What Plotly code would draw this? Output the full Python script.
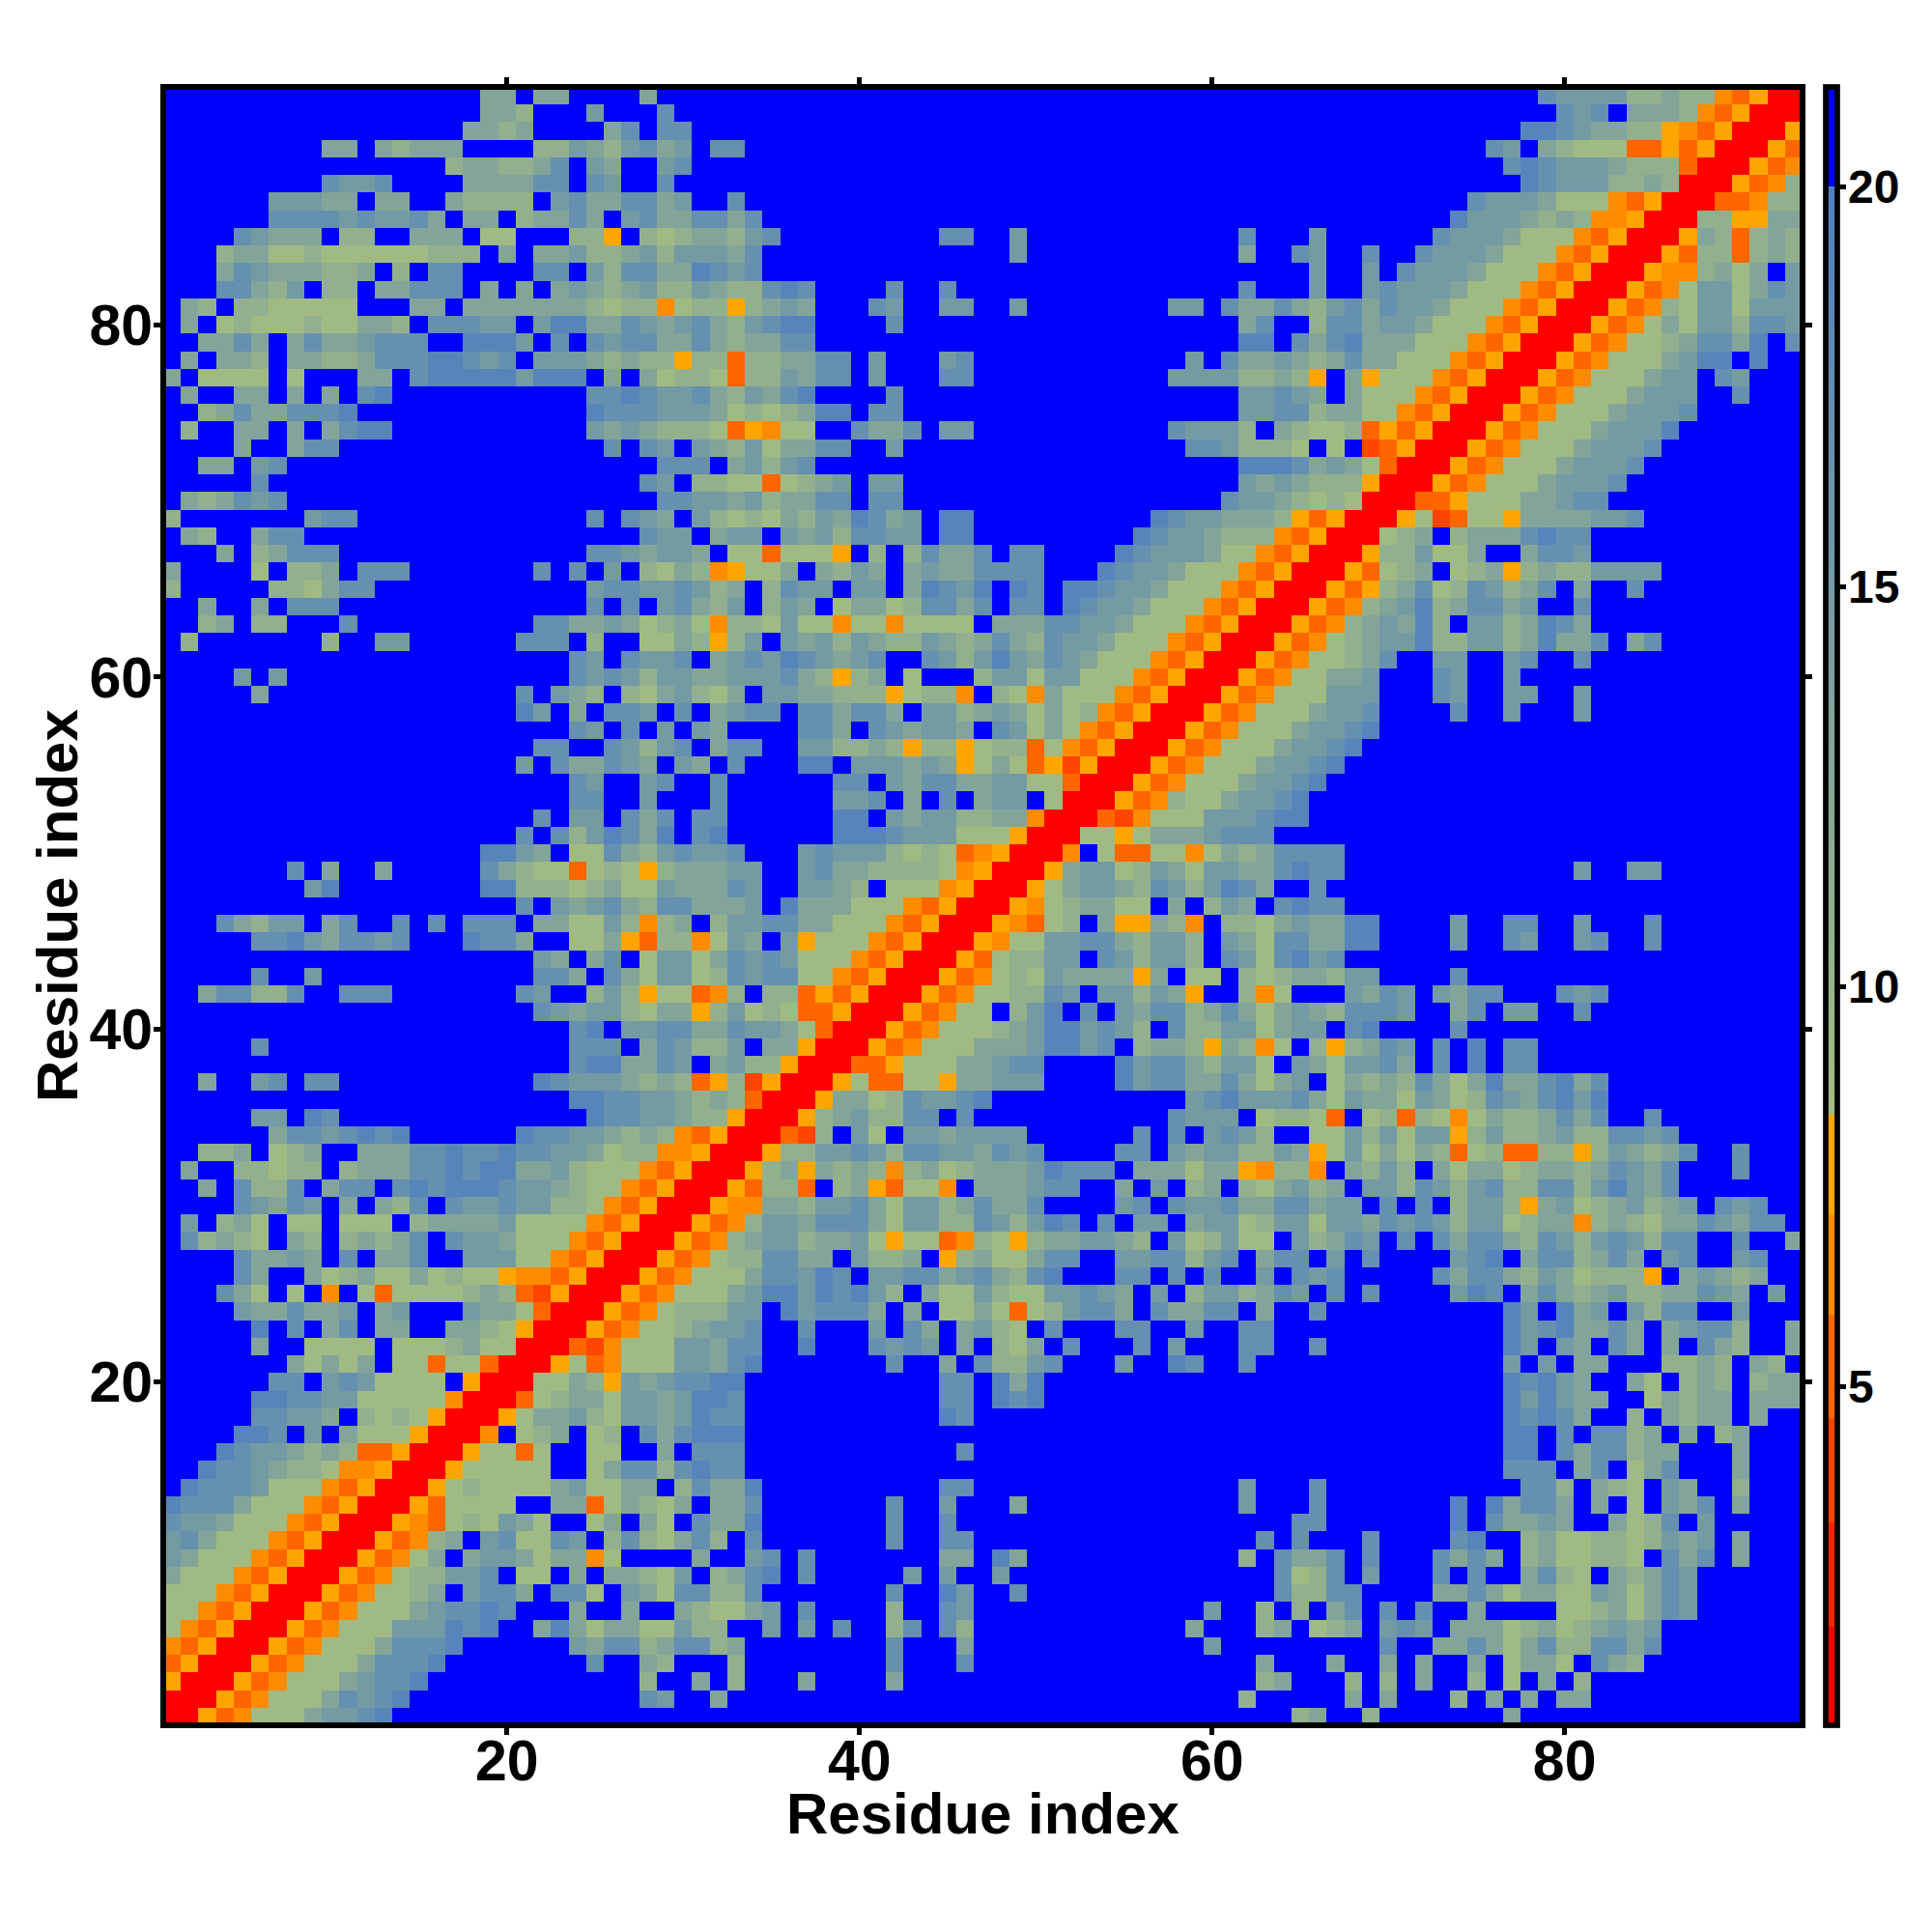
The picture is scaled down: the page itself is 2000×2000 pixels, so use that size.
import plotly.graph_objects as go

# Distance classes (one character per cell).
CLASS_VALUES = {"r": 1.4, "s": 3.95, "q": 5.25, "p": 6.5, "o": 7.8,
                "A": 9.0, "B": 10.9, "C": 13.0, "D": 15.0, "E": 17.0, "F": 19.0, ".": 20.8}

# Lower triangle, from residue 93 down to residue 1.
# LEFT holds columns 1-24
LEFT = [
"..................CC.CC.", "..................CCB...", ".................CCBC...", ".........CC.CBCCC....BBD",
"................BCCBBCE.", ".........EDDE....CCCCEE.", "......DDDCC.CC..CBBBB.DE", "......EEEEDEDDEC.CC.BCCE",
"....EDCCC.BB..CCC.AA...B", "...BCCAABAAAAAABBB.C.CCD", "...CEDCCCBBC.B.EE....EE.", "...EECBD.BB.CCEEE.C.C.CD",
".CB.BBAAAAA...CC.CCCCCCC", ".C.ABAAABAACCB.EEEDD.DFF", "..CCEC.CECCDEEE..FFFD.E.", ".C.CCB.CCBBCEEEFFEDE.DDD",
"C.AAAA.A...CC.EFFFFFDFFF", ".C..CC.C.C.EF...........", "..BCECCEEEF.............", ".B..CC.C.CEFF...........",
"....C..CEE..............", "..CC.DE.................", ".....E..................", ".CBCEDE.................",
"B.......DEE.............", ".CB..CEE................", "...C.BCEEE..............", "C....A.BBC.EEE.......E.E",
"B.....BBACEE............", "..C..C.EEE..............", "..BC.BB...E..........EEC", ".B.......B..DD......EEE.",
".......................E", "....D.D................E", ".....C..............E.DC", "....................FD.C",
".......................E", ".....................EE.", "....................D.EC", ".......................E",
".......................E", ".....................E.D", "....................E.EB", "..................FFDC.A",
".......E.C..C.....ECBAAq", "........DF........FFBBBA", "....................E.DC",
"...ECBDD.CE..E.E.EEE.CCA", ".....EEFDCEEDE...FEEC..A", ".....................DC.", ".....E..D............EEC",
"..CEEBBE..EEE.......ED..", ".....................EDC", ".......................E", ".....E.................E",
".......................E", "..C..DE.EE...........FED", ".......................F", ".....DD.FE..............",
"......CEEDEFEF......FEED", "..BBC.ABC..CCCEEFEEFEEDD", ".C..BBABB.BCCCEEFEFFCCDB", "..C.EBBE.CEE.EFEFFFEDDCB",
"....EDCED.C.CBE.EDDEDDBB", ".D.BCA.AA.AAA.BCCCCDAAAA", ".EBCBA.CB.BCBCE.EDDCAAAp", "....ECCDC.E.CCE..DDDAApq",
"....EC..CABCAACABAAoppqo", "...ECA.A.p.AqAAAABCBqsor",
"....DCCECCD.CD...DCCAqrr", ".....F.E.CE.CC..CCBAorrr", ".....C..AAAA.AAABCAArrrq", ".......CACAC.AAqAAqrrroA",
"......EE.DEDAAAA.orrrAAC", ".....FFEEDDAAAAAprrrqABC", ".....EEDDC.BABAorrroACDD", "....FFE.D.CAAAorrrp.ABC.",
"...FEDDCBCBqqorrroAAqA..", "..FEEDCBBApporrroAAAAA..", ".FEEEDAAApqorrroABAAAACC", "FEEECAAApqorrroqAAAA..CC",
"EDDCAAApqorrropqABACCA..", "DECAAApqorrroqpBB.CDAAED", "DCAAApqorrroqpAB.BCCDADC", "CAAApqorrroqpABADDC.AA.C",
"AAApqorrroqpAAAC.CEED.EE", "AApqorrroqpAAACDEEFF...C", "ApqorrroqpAAACDDFFF..CFC", "pqorrroqpAAACDDEF......E",
"qorrroqpAAACDDEF........", "orrroqpAAACDDEF.........", "rrroqpAAACDDEF..........", "rroqpAAACDDEF...........",
]

# MID holds columns 25-47, rows 93 down to 25
MID = [
"...C...................", "D...E..................", ".CE.EE.................", "CBDECD.EE..............",
"DC..DE.................", "ED..E..................", "CCEECD..E..............", "C.DECCEECE.............",
"Bo.BABCCBDE.........EE.", "BBCDBDDDCE.............", "DBEECCFEDE.............", "CBCDBBDCBBEFE....E..E..",
"BABBpABBoBCDC...ED..DD.", "CCEDCDECBDEFF....E.....", "EDEECCECBCCEE..........", "CBCBBoBBqBBCCEE.D...DE.",
".C.CABBAqBBDCEE.D...EE.", "EEFEDDECBDCEF....E.....", "FEEEDDDCABABCFF.EE.....", "DCDCBBBAqopAA..ECCE.DD.",
".E.ED.DCBDACCEE..D.....", "....EEE.CDBDE..........", "...ED.BBAAqABCD.DD.....", "....EEDDCDBCCEE.EE.....",
"E.EDC.DBABACBDCFECD.FF.", "...EDD.CDD.DCDBEEDD.FF.", "EEDCDDC.AAqAAAo.B.BECCE", ".D.BACBpoAAC.CBDC.CDCCE",
"DEEDDEDBC.BEDD.DD.CFEDF", "E.E.DECBD.BDC.ACCABEECE", "CDCABCApBBADAApAApAAAA.", "B..AACBoBD.DCDBDCBBDCBC",
"D.EDDE.CDEDFEDCDE..EDBD", "DEDBDDCCDDDECBoBC.A...B", "B.BACDBAC.DDCCBBBoABBp.", ".EED.E.CDEE.EECEEC.DDBC",
"D.E.D.DC....EEC.EDCDDC.", ".EDBDE.CEE..DDBBCBoBBoA", "CEDC.DC.E...FF.DDDCDCoA", "D..DE..E......EE.DCEECC",
"E..D...E......DDE.C.E.C", "D.ECE.EE......FF.DCDDBB", "DFECF.EF......FFFEDDDAA", "AECBDEDDE...DEDDDBABAqp",
"ABAoBCCCDD..DECCBBBBApo", "BCAADCCCED..DDCB.AAApor", "DECBEECCCD.FCCCAAApqorr",
"ADBpBC.BDDEECCAAApqorr", "ACoqBBpADC.DoAAApqorr", "CE.ADDACEDEDAAApqorr", ".ECADDABEDEEAApqorr",
"BDBoAAqpB.BBqoqorr", "DDBACCoBDABAqqorr", "F.DDEECCEDDCAqrr", "EE.CEDBBD.CCorr", "FFCCED.CDBBorr",
"DDCBCBqoBsorr", "FEEDDCBCBqrr", "FEEDDCBBorr", "DCBCBpqorr", "CABBpporr", "AAApqorr", "AApqorr", "Apqorr",
"pqorr", "qorr", "orr", "rr", "r",
]

# RIGHT_A holds columns 48-70, rows 93 down to 48
RIGHT_A = [
".......................", ".......................", ".......................", ".......................",
".......................", ".......................", ".......................", ".......................",
".D............E...D....", ".D............C..ED..E.", "..................D..D.", "..............E...D..DE",
".D........DD.ECCECBDECE", "..............CE..BEECD", "..............FF.ECEFCC", "...........D.ECCDCBCECC",
"..........DDDDBBCBo.CoA", "..............DDEDC.CAA", "..............DDEEBCCAA", "..........EDDDB.CBAABqo",
"...........EEDBBBA.A.sq", "..............FFFECDCAq", "..............DCDCBBBor", ".............EDDCBABArr",
".........FEDDCCCBoqorr", "........FEDDCBBBpqorr", ".EE....FEDDDCAApqorr", "EEE...FEDDCAAApqorr",
".FE.FFEDDCAAApqorr", ".EE.FEDDCAAApqorr", "CCCEEDDCAAApqorr", "ECBEDDCAAApqorr", "FDCEDCAAApqorr",
"DDADDAAApqorr", "BApCAAApqorr", "DCACABpqorr", "EDACApqorr", "BBqApqorr", "CAqosorr", "DDAAqrr", "DD.Arr",
"CCprr", "Aorr", "orr", "rr", "r",
]

# RIGHT_B holds columns 71-93, rows 93 down to 71
RIGHT_B = [
"........EDDDDBBCBBpqorr", ".........EDE.CCCBpqorr", ".......FFEDCCBBopqorr", ".....ED.CBAAAqqoqorr",
"......EFEDDDCBBBqrr", ".......FEDDDBBCBrr", "....EDDDCAAApqorr", "...FDDDCBCBpporr", "..EDDDCAAApqorr",
".EDDDCAAApqorr", "EDDDCAAApqorr", "DDDCAAApqorr", "DDCAAApqorr", "DCAAApqorr", "CAAApqorr", "AAApqorr",
"AApqorr", "Apqorr", "pqorr", "qorr", "orr", "rr", "r",
]

TICKS = [20, 40, 60, 80]
BAR_TICKS = [5, 10, 15, 20]
AXIS_TITLE = "Residue index"
N = 93
Z_MIN, Z_MAX = 0.765, 21.25

# Assemble the symmetric matrix
z = [[CLASS_VALUES["."] for _ in range(N)] for _ in range(N)]
for i, row_no in enumerate(range(N, 0, -1)):
    s = LEFT[i]
    if i < len(MID):
        s += MID[i]
    if i < len(RIGHT_A):
        s += RIGHT_A[i]
    if i < len(RIGHT_B):
        s += RIGHT_B[i]
    for c, ch in enumerate(s[:row_no]):
        v = CLASS_VALUES[ch]
        z[row_no - 1][c] = v
        z[c][row_no - 1] = v
    if len(s) < row_no:
        print("short row", row_no, len(s))

def n(v):
    return (v - Z_MIN) / (Z_MAX - Z_MIN)

bands = [(Z_MIN, 2.0, "#ff0000"), (2.0, 3.3, "#f52500"), (3.3, 4.6, "#ff4500"),
         (4.6, 5.9, "#ff6600"), (5.9, 7.15, "#ff8c00"), (7.15, 8.4, "#ffa500")]
scale = []
for lo, hi, col in bands:
    scale += [[n(lo), col], [n(hi), col]]
scale += [[n(8.4), "#a4bd80"], [n(20.0), "#5080c0"], [n(20.0), "#0000ff"], [1.0, "#0000ff"]]

ids = list(range(1, N + 1))
# the page adds an 8 px body margin around the figure
L, R, T, B = 161, 1858, 81.5, 1778
FONT = "Liberation Sans"
bold = lambda size: dict(family=FONT, size=size, color="black", weight="bold")

fig = go.Figure(go.Heatmap(
    x=ids, y=ids, z=z, zmin=Z_MIN, zmax=Z_MAX, colorscale=scale, hoverinfo="skip",
    colorbar=dict(
        thicknessmode="pixels", thickness=11.5, lenmode="fraction", len=1,
        x=1881.5 / 2000, xref="container", xanchor="left", xpad=0,
        y=0.5, yanchor="middle", ypad=0,
        outlinewidth=5.7, outlinecolor="black", borderwidth=0,
        tickmode="array", tickvals=BAR_TICKS, ticktext=["" for t in BAR_TICKS],
        ticks="outside", ticklen=7, tickwidth=5, tickcolor="black",
    ),
))

axis = dict(
    range=[0.5, 93.5], tickmode="array", tickvals=TICKS, ticktext=[str(t) for t in TICKS],
    ticks="outside", ticklen=9, tickwidth=5, tickcolor="black",
    showgrid=False, zeroline=False, showline=True, linewidth=1, linecolor="black", mirror="ticks",
    tickfont=bold(59),
)
notes = [dict(
    text=str(t), xref="paper", yref="paper", showarrow=False, borderpad=0,
    x=(1903.7 - L) / (R - L), xanchor="left", y=n(t), yanchor="middle", font=bold(48),
) for t in BAR_TICKS]
notes.append(dict(text=AXIS_TITLE, xref="paper", yref="paper", showarrow=False, borderpad=0,
                  x=0.5, xanchor="center", y=0, yanchor="middle", yshift=-91.5, font=bold(60)))
notes.append(dict(text=AXIS_TITLE, xref="paper", yref="paper", showarrow=False, borderpad=0,
                  x=0, xanchor="center", y=0.5, yanchor="middle", xshift=-110, textangle=-90, font=bold(60)))

fig.update_layout(
    width=2000, height=2000, autosize=False, paper_bgcolor="white", plot_bgcolor="white",
    margin=dict(l=L, r=2000 - R, t=T, b=2000 - B, autoexpand=False, pad=0),
    xaxis=dict(axis, ticklabelstandoff=-24),
    yaxis=dict(axis, ticklabelstandoff=-11),
    annotations=notes,
    shapes=[dict(type="rect", xref="paper", yref="paper", x0=0, x1=1, y0=0, y1=1,
                 line=dict(color="black", width=6), fillcolor="rgba(0,0,0,0)", layer="above")],
)
fig.write_html("out.html")
